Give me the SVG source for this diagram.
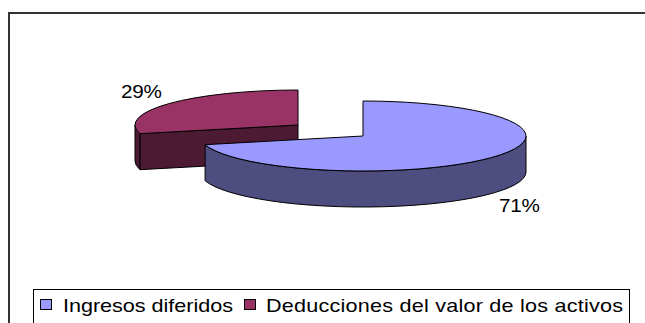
<svg xmlns="http://www.w3.org/2000/svg" width="645" height="323" viewBox="0 0 645 323">
<style>
.edge{stroke:#000;stroke-width:1;stroke-linejoin:round}
.lbl{font-family:"Liberation Sans",Arial,sans-serif;font-size:18px;fill:#000}
</style>
<rect width="645" height="323" fill="#fff"/>
<path d="M9,323 V13 H645" fill="none" stroke="#333" stroke-width="2"/>
<g id="slice-deducciones">
<path class="edge" fill="#4d1a33" d="M140.1,133.7 A163 35 0 0 1 135,125 L135,161 A163 35 0 0 0 140.1,169.7 Z"/>
<path class="edge" fill="#4d1a33" d="M298,125 L140.1,133.7 L140.1,169.7 L298,161 Z"/>
<path class="edge" fill="#993366" d="M298,125 L298,90 A163 35 0 0 0 140.1,133.7 Z"/>
</g>
<g id="slice-ingresos">
<path class="edge" fill="#4d4d80" d="M526,136 A163 35 0 0 1 205.1,144.7 L205.1,180.7 A163 35 0 0 0 526,172 Z"/>
<path class="edge" fill="#9999ff" d="M363,136 L363,101 A163 35 0 1 1 205.1,144.7 Z"/>
</g>
<g id="labels">
<text class="lbl" transform="translate(121,98) scale(1.15,1)" textLength="35.6" lengthAdjust="spacing">29%</text>
<text class="lbl" transform="translate(499,212) scale(1.15,1)" textLength="35.6" lengthAdjust="spacing">71%</text>
</g>
<g id="legend">
<rect x="33.5" y="289.5" width="596" height="45" fill="#fff" stroke="#000" stroke-width="1"/>
<rect x="40.5" y="299.5" width="11" height="10" fill="#9999ff" stroke="#000" stroke-width="1"/>
<text class="lbl" transform="translate(63,312) scale(1.2,1)" textLength="141.7" lengthAdjust="spacing">Ingresos diferidos</text>
<rect x="244.5" y="299.5" width="11" height="10" fill="#993366" stroke="#000" stroke-width="1"/>
<text class="lbl" transform="translate(266,312) scale(1.2,1)" textLength="297.5" lengthAdjust="spacing">Deducciones del valor de los activos</text>
</g>
</svg>
